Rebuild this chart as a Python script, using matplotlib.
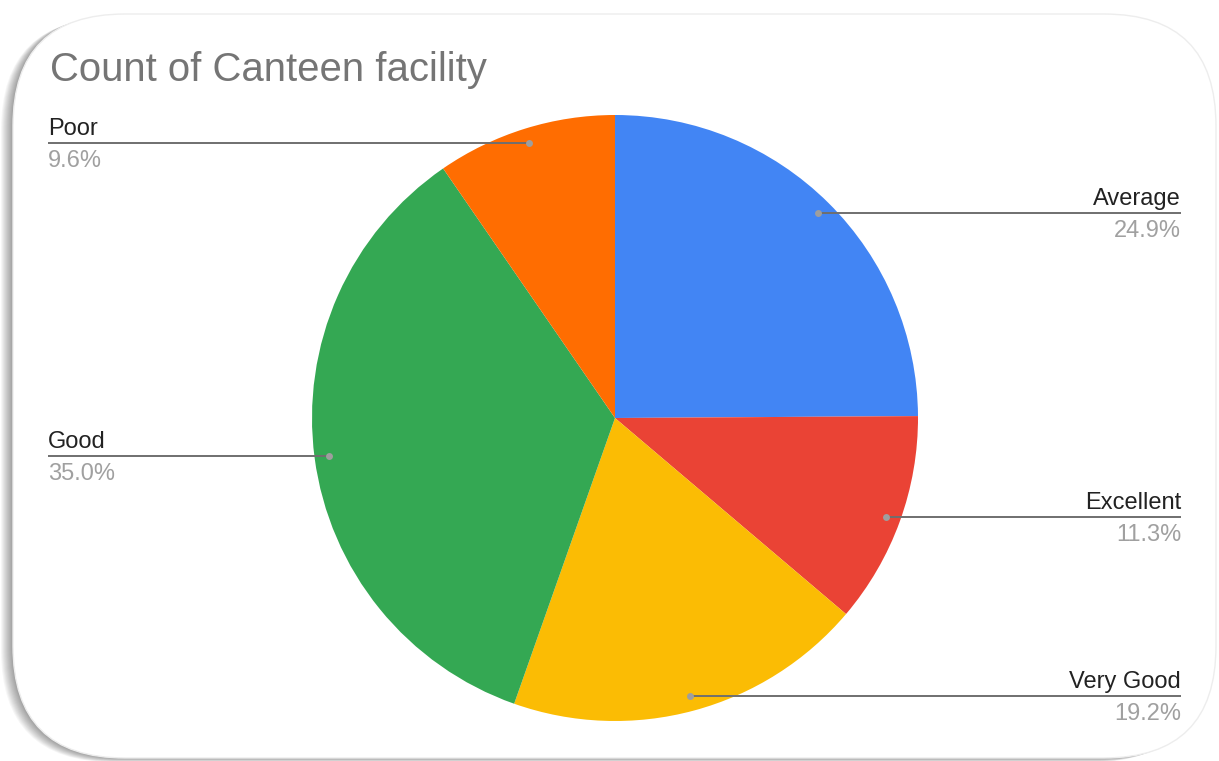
import matplotlib
matplotlib.use("Agg")
import matplotlib.pyplot as plt
import matplotlib.patches as mpatches
import numpy as np

categories = ["Average", "Excellent", "Very Good", "Good", "Poor"]
percents = [24.9, 11.3, 19.2, 35.0, 9.6]
colors = ["#4285F4", "#EA4335", "#FBBC04", "#34A853", "#FF6D01"]
title = "Count of Canteen facility"
label_side = ["right", "right", "right", "left", "left"]

W, H = 1219, 761
fig = plt.figure(figsize=(W / 100, H / 100), dpi=100)
ax = fig.add_axes([0, 0, 1, 1])

# frame with shadow
fx0, fy0, fx1, fy1 = 13, 3, 1216, 747
for k in range(1, 13):
    sh = mpatches.FancyBboxPatch((fx0 - k, fy0 - k * 0.35), fx1 - fx0, fy1 - fy0,
                                 boxstyle="round,pad=0,rounding_size=112",
                                 facecolor="black", edgecolor="none", alpha=0.035, zorder=0)
    ax.add_patch(sh)
frame = mpatches.FancyBboxPatch((fx0, fy0), fx1 - fx0, fy1 - fy0,
                                boxstyle="round,pad=0,rounding_size=112",
                                facecolor="white", edgecolor="#ededed", linewidth=1.0, zorder=1)
ax.add_patch(frame)

cx, cy, R = 615, H - 418, 303
wedges, _ = ax.pie(percents, colors=colors, startangle=90, counterclock=False,
                   center=(cx, cy), radius=R, frame=True,
                   wedgeprops=dict(linewidth=0))
for w in wedges:
    w.set_zorder(2)
ax.set_xlim(0, W)
ax.set_ylim(0, H)
ax.set_aspect("equal")
ax.axis("off")

ax.text(50, H - 70, title, fontsize=28.9, color="#757575", family="Liberation Sans",
        va="center", ha="left", zorder=5)

cum = 0
for name, p, side in zip(categories, percents, label_side):
    mid = 90 - (cum + p / 2) * 3.6
    cum += p
    t = np.deg2rad(mid)
    dx, dy = cx + 0.952 * R * np.cos(t), cy + 0.952 * R * np.sin(t)
    xe = 1181 if side == "right" else 48
    ax.plot([dx, xe], [dy, dy], color="#6f6f6f", lw=1.4, zorder=4, solid_capstyle="butt")
    ax.plot([dx], [dy], "o", ms=5, color="#9e9e9e", mec="none", zorder=5)
    ha = "right" if side == "right" else "left"
    ax.text(xe, dy + 3, name, fontsize=17, color="#222222", family="Liberation Sans",
            ha=ha, va="bottom", zorder=5)
    ax.text(xe, dy - 7, f"{p:.1f}%", fontsize=17, color="#a0a0a0", family="Liberation Sans",
            ha=ha, va="top", zorder=5)

fig.savefig("out.png", dpi=100, facecolor="white")
